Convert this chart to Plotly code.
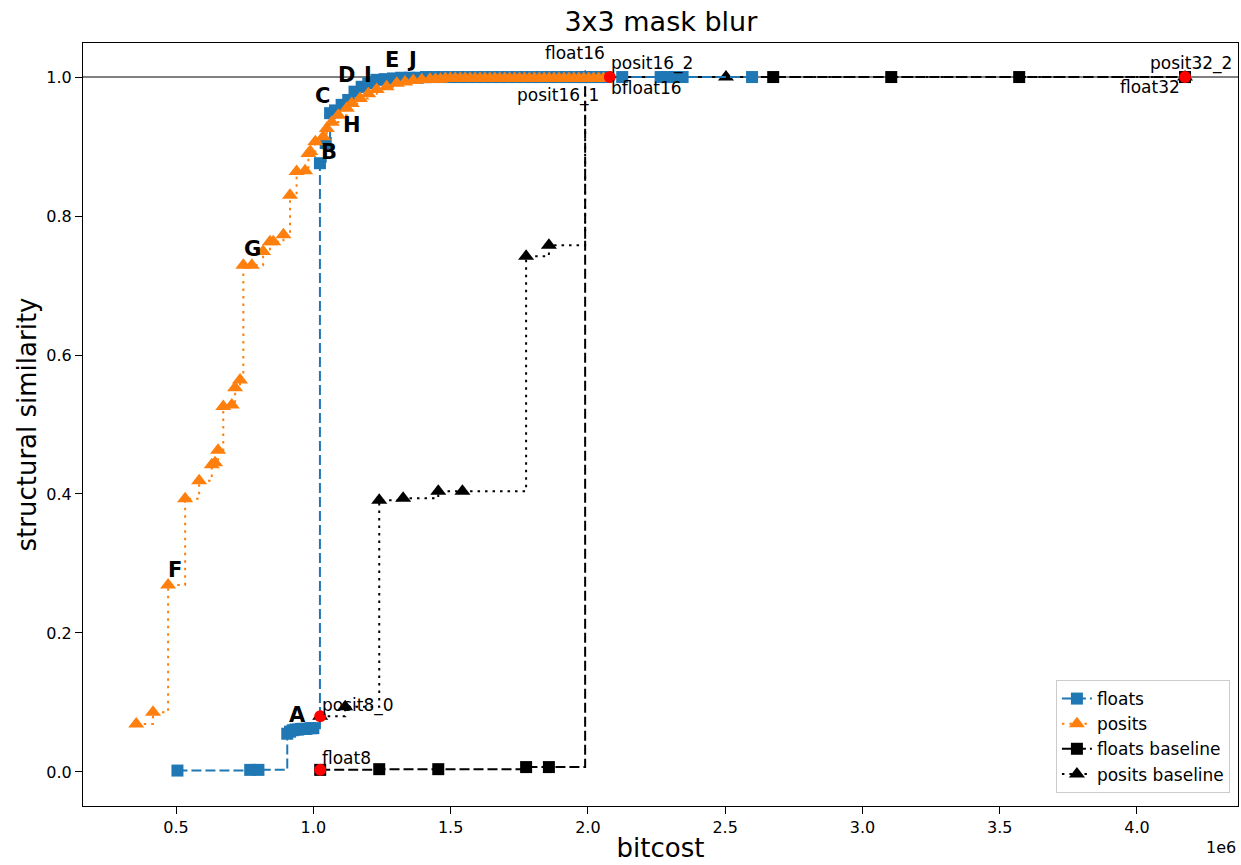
import plotly.graph_objects as go

# x values in units of 1e6 bits
floats_x = [0.505, 0.770, 0.800, 0.905, 0.915, 0.925, 0.935, 0.945, 0.955, 0.965, 0.975, 0.990, 1.000,
            1.024, 1.045, 1.061, 1.079, 1.103, 1.127, 1.150, 1.176, 1.200, 1.230, 1.260, 1.290, 1.320,
            1.350, 1.380, 1.410, 1.440, 1.470, 1.500, 1.530, 1.560, 1.590, 1.620, 1.650, 1.680, 1.710,
            1.740, 1.770, 1.800, 1.830, 1.860, 1.890, 1.920, 1.950, 1.980, 2.010, 2.040, 2.065,
            2.125, 2.265, 2.290, 2.315, 2.345, 2.598]
floats_y = [0.002, 0.003, 0.003, 0.055, 0.058, 0.060, 0.061, 0.061, 0.062, 0.062, 0.062, 0.063, 0.063,
            0.876, 0.905, 0.948, 0.952, 0.960, 0.967, 0.979, 0.986, 0.991, 0.996, 0.997, 0.998, 0.999,
            0.999, 0.999, 1.000, 1.000, 1.000, 1.000, 1.000, 1.000, 1.000, 1.000, 1.000, 1.000, 1.000,
            1.000, 1.000, 1.000, 1.000, 1.000, 1.000, 1.000, 1.000, 1.000, 1.000, 1.000, 1.000,
            1.000, 1.000, 1.000, 1.000, 1.000, 1.000]

posits_x = [0.355, 0.416, 0.471, 0.533, 0.584, 0.630, 0.642, 0.653, 0.672, 0.703, 0.715, 0.733,
            0.745, 0.776, 0.817, 0.842, 0.854, 0.891, 0.915, 0.939, 0.970, 0.982, 0.989, 1.007,
            1.036, 1.049, 1.067, 1.091, 1.122, 1.140, 1.170, 1.200, 1.231, 1.267, 1.304, 1.334,
            1.364, 1.395, 1.425, 1.445, 1.463, 1.481, 1.499, 1.517, 1.535, 1.553, 1.571, 1.589,
            1.607, 1.625, 1.643, 1.661, 1.679, 1.697, 1.715, 1.733, 1.751, 1.769, 1.787, 1.805,
            1.823, 1.841, 1.859, 1.877, 1.895, 1.913, 1.931, 1.949, 1.967, 1.985, 2.003, 2.021,
            2.039, 2.057]
posits_y = [0.069, 0.086, 0.269, 0.393, 0.419, 0.442, 0.445, 0.463, 0.526, 0.528, 0.553, 0.564,
            0.729, 0.729, 0.749, 0.763, 0.763, 0.773, 0.830, 0.864, 0.865, 0.890, 0.893, 0.907,
            0.914, 0.926, 0.935, 0.945, 0.955, 0.962, 0.969, 0.976, 0.982, 0.986, 0.991, 0.993,
            0.995, 0.996, 0.997, 0.997, 0.997, 0.998, 0.998, 0.998, 0.998, 0.998, 0.998, 0.998,
            0.998, 0.998, 0.998, 0.998, 0.998, 0.998, 0.998, 0.998, 0.998, 0.998, 0.998, 0.998,
            0.998, 0.998, 0.998, 0.998, 0.998, 0.998, 0.998, 0.998, 0.998, 0.998, 0.998, 0.998,
            0.998, 0.998]

floats_base_x = [1.025, 1.240, 1.455, 1.775, 1.858, 1.990, 2.675, 3.105, 3.571, 4.175]
floats_base_y = [0.003, 0.004, 0.004, 0.007, 0.007, 1.000, 1.000, 1.000, 1.000, 1.000]

posits_base_x = [1.025, 1.116, 1.240, 1.327, 1.455, 1.543, 1.775, 1.858, 1.990, 2.503, 4.175]
posits_base_y = [0.080, 0.094, 0.391, 0.394, 0.404, 0.404, 0.742, 0.758, 1.000, 1.000, 1.000]

named_x = [1.025, 1.025, 2.080, 4.175]
named_y = [0.080, 0.003, 1.000, 1.000]

# text labels: (text, x, y)
type_labels = [("float16", 1.953, 1.035), ("posit16_2", 2.234, 1.019), ("posit16_1", 1.892, 0.974),
               ("bfloat16", 2.212, 0.984), ("posit8_0", 1.163, 0.096), ("float8", 1.119, 0.020),
               ("posit32_2", 4.197, 1.019), ("float32", 4.048, 0.986)]
letter_labels = [("A", 0.944, 0.082), ("B", 1.057, 0.892), ("C", 1.032, 0.973), ("D", 1.119, 1.003),
                 ("I", 1.199, 1.003), ("E", 1.287, 1.024), ("J", 1.360, 1.024), ("H", 1.141, 0.931),
                 ("F", 0.496, 0.291), ("G", 0.780, 0.753)]

xticks = [0.5, 1.0, 1.5, 2.0, 2.5, 3.0, 3.5, 4.0]
yticks = [0.0, 0.2, 0.4, 0.6, 0.8, 1.0]

FONT = "DejaVu Sans"
BLUE = "#1f77b4"
ORANGE = "#ff7f0e"

fig = go.Figure()

fig.add_trace(go.Scatter(x=floats_base_x, y=floats_base_y, mode="lines+markers", name="floats baseline",
                         line=dict(color="black", width=2, dash="10px,4px", shape="hv"),
                         marker=dict(symbol="square", size=12, color="black"), legendrank=3))
fig.add_trace(go.Scatter(x=posits_base_x, y=posits_base_y, mode="lines+markers", name="posits baseline",
                         line=dict(color="black", width=2, dash="2.5px,5px", shape="hv"),
                         marker=dict(symbol="triangle-up", size=14, color="black"), legendrank=4))
fig.add_trace(go.Scatter(x=floats_x, y=floats_y, mode="lines+markers", name="floats",
                         line=dict(color=BLUE, width=2, dash="10px,4px", shape="hv"),
                         marker=dict(symbol="square", size=12, color=BLUE), legendrank=1))
fig.add_trace(go.Scatter(x=posits_x, y=posits_y, mode="lines+markers", name="posits",
                         line=dict(color=ORANGE, width=2, dash="2.5px,5px", shape="hv"),
                         marker=dict(symbol="triangle-up", size=14, color=ORANGE), legendrank=2))
fig.add_trace(go.Scatter(x=named_x, y=named_y, mode="markers", showlegend=False,
                         marker=dict(symbol="circle", size=12, color="red")))

for t, x, y in type_labels:
    fig.add_annotation(x=x, y=y, text=t, showarrow=False, xanchor="center", yanchor="middle",
                       font=dict(family=FONT, size=17, color="black"))
for t, x, y in letter_labels:
    fig.add_annotation(x=x, y=y, text="<b>%s</b>" % t, showarrow=False, xanchor="center", yanchor="middle",
                       font=dict(family=FONT, size=21, color="black"))

fig.add_annotation(x=1.0, y=-0.055, xref="paper", yref="paper", text="1e6", showarrow=False,
                   xanchor="right", yanchor="middle", font=dict(family=FONT, size=16, color="black"))

fig.add_shape(type="line", xref="paper", x0=0, x1=1, yref="y", y0=1.0, y1=1.0,
              line=dict(color="gray", width=2), layer="below")

fig.update_layout(
    width=1241, height=865,
    margin=dict(l=83, r=3, t=43, b=59),
    plot_bgcolor="white", paper_bgcolor="white",
    font=dict(family=FONT, color="black"),
    title=dict(text="3x3 mask blur", x=0.5325, xanchor="center", y=0.975, yanchor="middle",
               font=dict(family=FONT, size=27, color="black")),
    legend=dict(x=0.993, y=0.017, xanchor="right", yanchor="bottom", bgcolor="rgba(255,255,255,0.8)",
                bordercolor="#cccccc", borderwidth=1, font=dict(family=FONT, size=17, color="black"),
                tracegroupgap=0),
    showlegend=True,
)
fig.update_xaxes(range=[0.161, 4.368], tickvals=xticks, ticktext=["%.1f" % v for v in xticks],
                 showline=True, linecolor="black", linewidth=1, mirror=True, ticks="outside", ticklen=7,
                 tickcolor="black", showgrid=False, zeroline=False, tickfont=dict(size=16),
                 title=dict(text="bitcost", font=dict(size=26), standoff=2))
fig.update_yaxes(range=[-0.049, 1.049], tickvals=yticks, ticktext=["%.1f" % v for v in yticks],
                 showline=True, linecolor="black", linewidth=1, mirror=True, ticks="outside", ticklen=7,
                 tickcolor="black", showgrid=False, zeroline=False, tickfont=dict(size=16),
                 title=dict(text="structural similarity", font=dict(size=26), standoff=2))

fig.write_html("out.html")
